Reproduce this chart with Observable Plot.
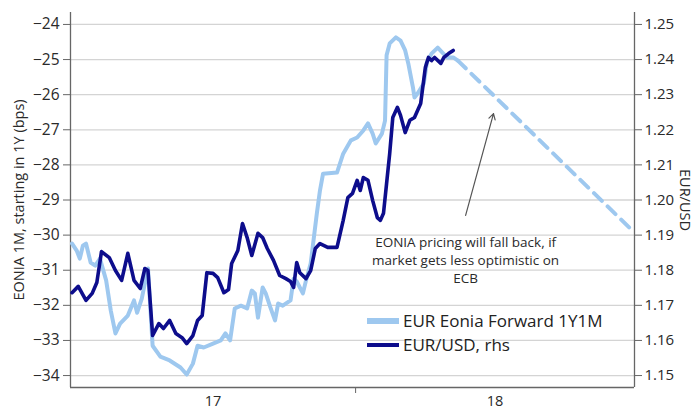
<!DOCTYPE html>
<html>
<head>
<meta charset="utf-8">
<script src="https://cdn.jsdelivr.net/npm/d3@7"></script>
<script src="https://cdn.jsdelivr.net/npm/@observablehq/plot@0.6"></script>
<style>
  body { margin: 0; background: #fff; }
  #wrap { position: relative; width: 695px; height: 412px; font-family: "Open Sans", sans-serif; }
  #legend { position: absolute; left: 367px; top: 309px; font-size: 17px; color: #222; line-height: 24px; }
  #legend .row { display: flex; align-items: center; white-space: nowrap; }
  #legend .sw { width: 32px; margin-right: 4px; }
</style>
</head>
<body>
<div id="wrap"><div id="legend"></div></div>
<script>
// ---- data ----
// x positions are days since 2017-07-01
const eoniaDay = [1,4,6,8,10,13,16,19,23,26,29,32,37,41,43,46,49,50,53,58,64,71,75,79,82,86,92,97,100,103,106,110,114,117,119,121,124,126,129,132,134,137,142,144,146,150,152,155,159,161,163,172,176,181,185,189,192,195,197,201,203,204,206,210,213,216,218,221,222,224,228,230,233,237,240,243,247,250];
const eoniaVal = [-30.24,-30.44,-30.67,-30.30,-30.24,-30.78,-30.87,-30.67,-31.29,-32.15,-32.80,-32.52,-32.29,-31.86,-32.21,-31.81,-31.15,-30.95,-33.15,-33.46,-33.57,-33.77,-33.97,-33.66,-33.15,-33.20,-33.09,-33.00,-32.80,-33.00,-32.09,-32.01,-32.09,-31.58,-31.66,-32.35,-31.49,-31.66,-32.06,-32.43,-31.95,-32.01,-31.86,-31.24,-31.32,-31.66,-31.29,-30.81,-29.38,-28.73,-28.25,-28.22,-27.68,-27.30,-27.22,-27.02,-26.82,-27.11,-27.39,-27.11,-26.74,-24.88,-24.54,-24.37,-24.46,-24.74,-25.11,-25.79,-26.08,-25.97,-25.68,-25.08,-24.83,-24.66,-24.80,-24.94,-24.94,-25.03];

const fxDay = [1,5,10,14,17,20,25,29,33,37,41,45,48,50,53,57,60,64,68,72,75,79,82,85,88,92,95,99,102,104,108,111,114,117,121,124,127,131,135,139,142,144,146,148,152,155,158,161,166,172,176,179,182,185,187,189,192,195,198,200,202,204,206,208,211,213,216,219,222,226,229,231,233,235,239,241,244,247];
const fxVal = [1.1736,1.1754,1.1714,1.1734,1.1765,1.1853,1.1836,1.1799,1.1771,1.1848,1.1771,1.1748,1.1805,1.1799,1.1614,1.1648,1.1634,1.1657,1.1620,1.1608,1.1591,1.1614,1.1657,1.1671,1.1793,1.1791,1.1779,1.1736,1.1745,1.1819,1.1856,1.1933,1.1893,1.1842,1.1905,1.1893,1.1862,1.1828,1.1785,1.1776,1.1768,1.1751,1.1822,1.1793,1.1776,1.1799,1.1862,1.1876,1.1865,1.1865,1.1942,1.2007,1.2019,1.2056,1.2027,1.2064,1.2056,1.1999,1.1950,1.1942,1.1962,1.2047,1.2132,1.2235,1.2264,1.2241,1.2192,1.2227,1.2235,1.2275,1.2377,1.2406,1.2397,1.2406,1.2389,1.2406,1.2417,1.2426];

const projDay = [250, 361];
const projVal = [-25.03, -29.8];

const leftTicks = [-34,-33,-32,-31,-30,-29,-28,-27,-26,-25,-24];
const rightTicks = [1.15,1.16,1.17,1.18,1.19,1.20,1.21,1.22,1.23,1.24,1.25];
const xLabelDates = ["2017-10-01", "2018-04-01"];
const xLabels = ["17", "18"];
const yearBoundary = ["2018-01-01"];

const arrowFrom = {day: 255, val: -29.44};
const arrowTo = {day: 273, val: -26.54};
const noteDay = 255;
const noteLines = ["EONIA pricing will fall back, if", "market gets less optimistic on", "ECB"];
const noteVals = [-30.21, -30.72, -31.24];

const seriesNames = ["EUR Eonia Forward 1Y1M", "EUR/USD, rhs"];
const leftTitle = "EONIA 1M, starting in 1Y (bps)";
const rightTitle = "EUR/USD";

// ---- build ----
const start = Date.UTC(2017, 6, 1);
const toDate = d => new Date(start + d * 864e5);
const fxToLeft = v => -34 + (v - 1.15) * 100;
const leftToFx = v => 1.15 + (v + 34) / 100;

const LIGHT = "#9ec8ef";
const DARK = "#0d0d8c";

const eonia = eoniaDay.map((d, i) => ({date: toDate(d), v: eoniaVal[i]}));
const fx = fxDay.map((d, i) => ({date: toDate(d), v: fxToLeft(fxVal[i])}));
const proj = projDay.map((d, i) => ({date: toDate(d), v: projVal[i]}));
const notes = noteLines.map((t, i) => ({date: toDate(noteDay), v: noteVals[i], t}));
const labelMap = new Map(xLabelDates.map((d, i) => [new Date(d + "T00:00:00Z").getTime(), xLabels[i]]));

const xMin = toDate(0), xMax = toDate(364);
const yMin = -34.34, yMax = -23.66;

const chart = Plot.plot({
  width: 695,
  height: 412,
  marginLeft: 70,
  marginRight: 61,
  marginTop: 12,
  marginBottom: 25,
  style: {fontFamily: "'Open Sans', sans-serif", fontSize: "14px", color: "#333", background: "#fff"},
  x: {type: "utc", domain: [xMin, xMax]},
  y: {domain: [yMin, yMax]},
  marks: [
    Plot.gridY(leftTicks, {stroke: "#d4d4d4", strokeOpacity: 1, strokeWidth: 1.3}),
    Plot.axisY(leftTicks, {anchor: "left", tickSize: 7, tickPadding: 4, label: null, fontSize: 15.5, stroke: "#666", fill: "#2a2a2a"}),
    Plot.axisY(rightTicks.map(fxToLeft), {anchor: "right", tickSize: 7, tickPadding: 3, label: null, fontSize: 15, stroke: "#666", fill: "#2a2a2a", tickFormat: d => leftToFx(d).toFixed(2)}),
    Plot.axisX(yearBoundary.map(d => new Date(d + "T00:00:00Z")), {tickSize: 6, tickFormat: () => "", label: null, stroke: "#666"}),
    Plot.axisX(xLabelDates.map(d => new Date(d + "T00:00:00Z")), {tickSize: 0, tickPadding: 8, label: null, fontSize: 14.5, fill: "#2a2a2a", tickFormat: d => labelMap.get(d.getTime())}),
    Plot.ruleX([xMin, xMax], {stroke: "#666", strokeWidth: 1.3}),
    Plot.ruleY([yMin], {stroke: "#666", strokeWidth: 1.3}),
    Plot.line(proj, {x: "date", y: "v", stroke: LIGHT, strokeWidth: 4, strokeDasharray: "11,8"}),
    Plot.line(eonia, {x: "date", y: "v", stroke: LIGHT, strokeWidth: 4, strokeLinejoin: "round"}),
    Plot.line(fx, {x: "date", y: "v", stroke: DARK, strokeWidth: 3.6, strokeLinejoin: "round"}),
    Plot.arrow([{x1: toDate(arrowFrom.day), y1: arrowFrom.val, x2: toDate(arrowTo.day), y2: arrowTo.val}],
      {x1: "x1", y1: "y1", x2: "x2", y2: "y2", stroke: "#555", strokeWidth: 1.2, headLength: 8}),
    Plot.text(notes, {x: "date", y: "v", text: "t", fontSize: 13.5, fill: "#2a2a2a", textAnchor: "middle"}),
    Plot.text([leftTitle], {frameAnchor: "left", textAnchor: "middle", dx: -51, rotate: -90, fontSize: 14.5, fill: "#2a2a2a"}),
    Plot.text([rightTitle], {frameAnchor: "right", textAnchor: "middle", dx: 50, rotate: 90, fontSize: 14.5, fill: "#2a2a2a"})
  ]
});

const wrap = document.getElementById("wrap");
wrap.insertBefore(chart, wrap.firstChild);

const legend = document.getElementById("legend");
const swatches = [{c: LIGHT, h: 6}, {c: DARK, h: 4}];
seriesNames.forEach((name, i) => {
  const row = document.createElement("div");
  row.className = "row";
  const sw = document.createElement("span");
  sw.className = "sw";
  sw.style.height = swatches[i].h + "px";
  sw.style.background = swatches[i].c;
  row.appendChild(sw);
  const t = document.createElement("span");
  t.textContent = name;
  row.appendChild(t);
  legend.appendChild(row);
});
</script>
</body>
</html>
